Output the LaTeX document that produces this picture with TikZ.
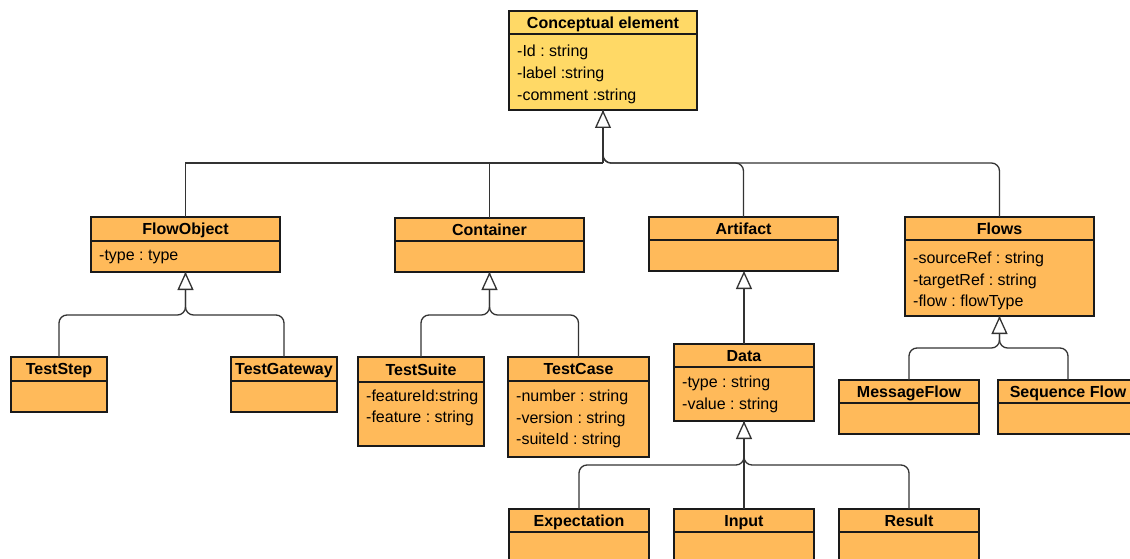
\documentclass[tikz,border=0pt]{standalone}
\usepackage{fontspec}
\setmainfont{Liberation Sans}
\usetikzlibrary{arrows.meta,calc}
\definecolor{orng}{HTML}{FFBA5A}
\definecolor{yell}{HTML}{FFD966}
\definecolor{edgec}{HTML}{1A1A1A}
\definecolor{wire}{HTML}{333333}
\frenchspacing
\tikzset{
 box/.style={draw=edgec, line width=1.3pt, inner sep=0pt, outer sep=0pt, rectangle},
 ttl/.style={font=\fontsize{16}{19}\selectfont\bfseries\frenchspacing, text=black, inner sep=0pt, anchor=base},
 attr/.style={font=\fontsize{16}{19}\selectfont\frenchspacing, text=black, inner sep=0pt, anchor=base west},
 conn/.style={draw=wire, line width=1.3pt},
 inh/.style={draw=wire, line width=1.3pt, -{Triangle[open, length=18pt, width=16pt, fill=white]}},
 rc/.style={conn, rounded corners=8pt},
}
\newcommand\umlcls[8]{%
 \node[box, fill=#8, minimum width={(#4-#2)*1pt}, minimum height={(#5-#3)*1pt}, anchor=north west] (#1) at (#2,#3) {};
 \draw[draw=edgec, line width=1.3pt] (#1.west |- 0,#6) -- (#1.east |- 0,#6);
 \path (#1.north) -- (#1.north |- 0,#6) node[midway, ttl, yshift=-5.8pt] (#1t) {#7};
}
\begin{document}
\begin{tikzpicture}[x=1pt,y=-1pt]
\useasboundingbox (0,0) rectangle (1130,559);
\clip (0,0) rectangle (1130,559);
% classes
\umlcls{ce}{509}{11}{697}{110}{34}{Conceptual element}{yell}
\node[attr] (ce1) at (517,56.5) {-Id : string};
\node[attr] (ce2) at (517,78.5) {-label :string};
\node[attr] (ce3) at (517,100.5) {-comment :string};

\umlcls{fo}{91}{217}{280}{272}{241}{FlowObject}{orng}
\node[attr] (fo1) at (99,260.5) {-type : type};

\umlcls{co}{395}{218}{584}{272}{241}{Container}{orng}
\umlcls{ar}{649}{217}{838}{271}{240}{Artifact}{orng}

\umlcls{fl}{905}{217}{1094}{316}{240}{Flows}{orng}
\node[attr] (fl1) at (913,263.5) {-sourceRef : string};
\node[attr] (fl2) at (913,285.5) {-targetRef : string};
\node[attr] (fl3) at (913,306.5) {-flow : flowType};

\umlcls{ts}{11}{357}{107}{412}{381}{TestStep}{orng}
\umlcls{tg}{231}{357}{337}{412}{381}{TestGateway}{orng}

\umlcls{su}{358}{357}{484}{446}{382}{TestSuite}{orng}
\node[attr] (su1) at (366,401.5) {-featureId:string};
\node[attr] (su2) at (366,422.5) {-feature : string};

\umlcls{tc}{508}{357}{649}{457}{381}{TestCase}{orng}
\node[attr] (tc1) at (516,401.5) {-number : string};
\node[attr] (tc2) at (516,423.5) {-version : string};
\node[attr] (tc3) at (516,444.5) {-suiteId : string};

\umlcls{da}{674}{344}{814}{421}{367}{Data}{orng}
\node[attr] (da1) at (682,387.5) {-type : string};
\node[attr] (da2) at (682,409.5) {-value : string};

\umlcls{ex}{509}{509}{649}{580}{532}{Expectation}{orng}
\umlcls{in}{674}{509}{814}{580}{532}{Input}{orng}
\umlcls{re}{839}{509}{979}{580}{532}{Result}{orng}

\umlcls{mf}{839}{380}{979}{434}{403}{MessageFlow}{orng}
\umlcls{sf}{998}{380}{1138}{434}{403}{Sequence Flow}{orng}

% connectors: Conceptual element
\coordinate (j0) at (603,163);
\draw[conn] (fo.north) |- (j0);
\draw[conn] (co.north) -- (co.north |- j0);
\draw[rc] (ce.south) |- (ar.north |- j0) -- (ar.north);
\draw[rc] (ce.south) |- (fl.north |- j0) -- (fl.north);
\draw[inh] (j0) -- (ce.south);

% FlowObject
\coordinate (j1) at (185.5,315);
\draw[rc] (fo.south) |- (ts.north |- j1) -- (ts.north);
\draw[rc] (fo.south) |- (tg.north |- j1) -- (tg.north);
\draw[inh] ($(j1)+(0,-8)$) -- (fo.south);

% Container
\coordinate (j2) at (489.5,315);
\draw[rc] (co.south) |- (su.north |- j2) -- (su.north);
\draw[rc] (co.south) |- (tc.north |- j2) -- (tc.north);
\draw[inh] ($(j2)+(0,-8)$) -- (co.south);

% Artifact
\draw[inh] (da.north) -- (da.north |- ar.south);

% Data
\coordinate (j3) at (744,465);
\draw[rc] (da.south) |- (ex.north |- j3) -- (ex.north);
\draw[rc] (da.south) |- (re.north |- j3) -- (re.north);
\draw[inh] (in.north) -- (da.south);

% Flows
\coordinate (j4) at (999.5,348);
\draw[rc] (fl.south) |- (mf.north |- j4) -- (mf.north);
\draw[rc] (fl.south) |- (sf.north |- j4) -- (sf.north);
\draw[inh] ($(j4)+(0,-8)$) -- (fl.south);
\end{tikzpicture}
\end{document}
